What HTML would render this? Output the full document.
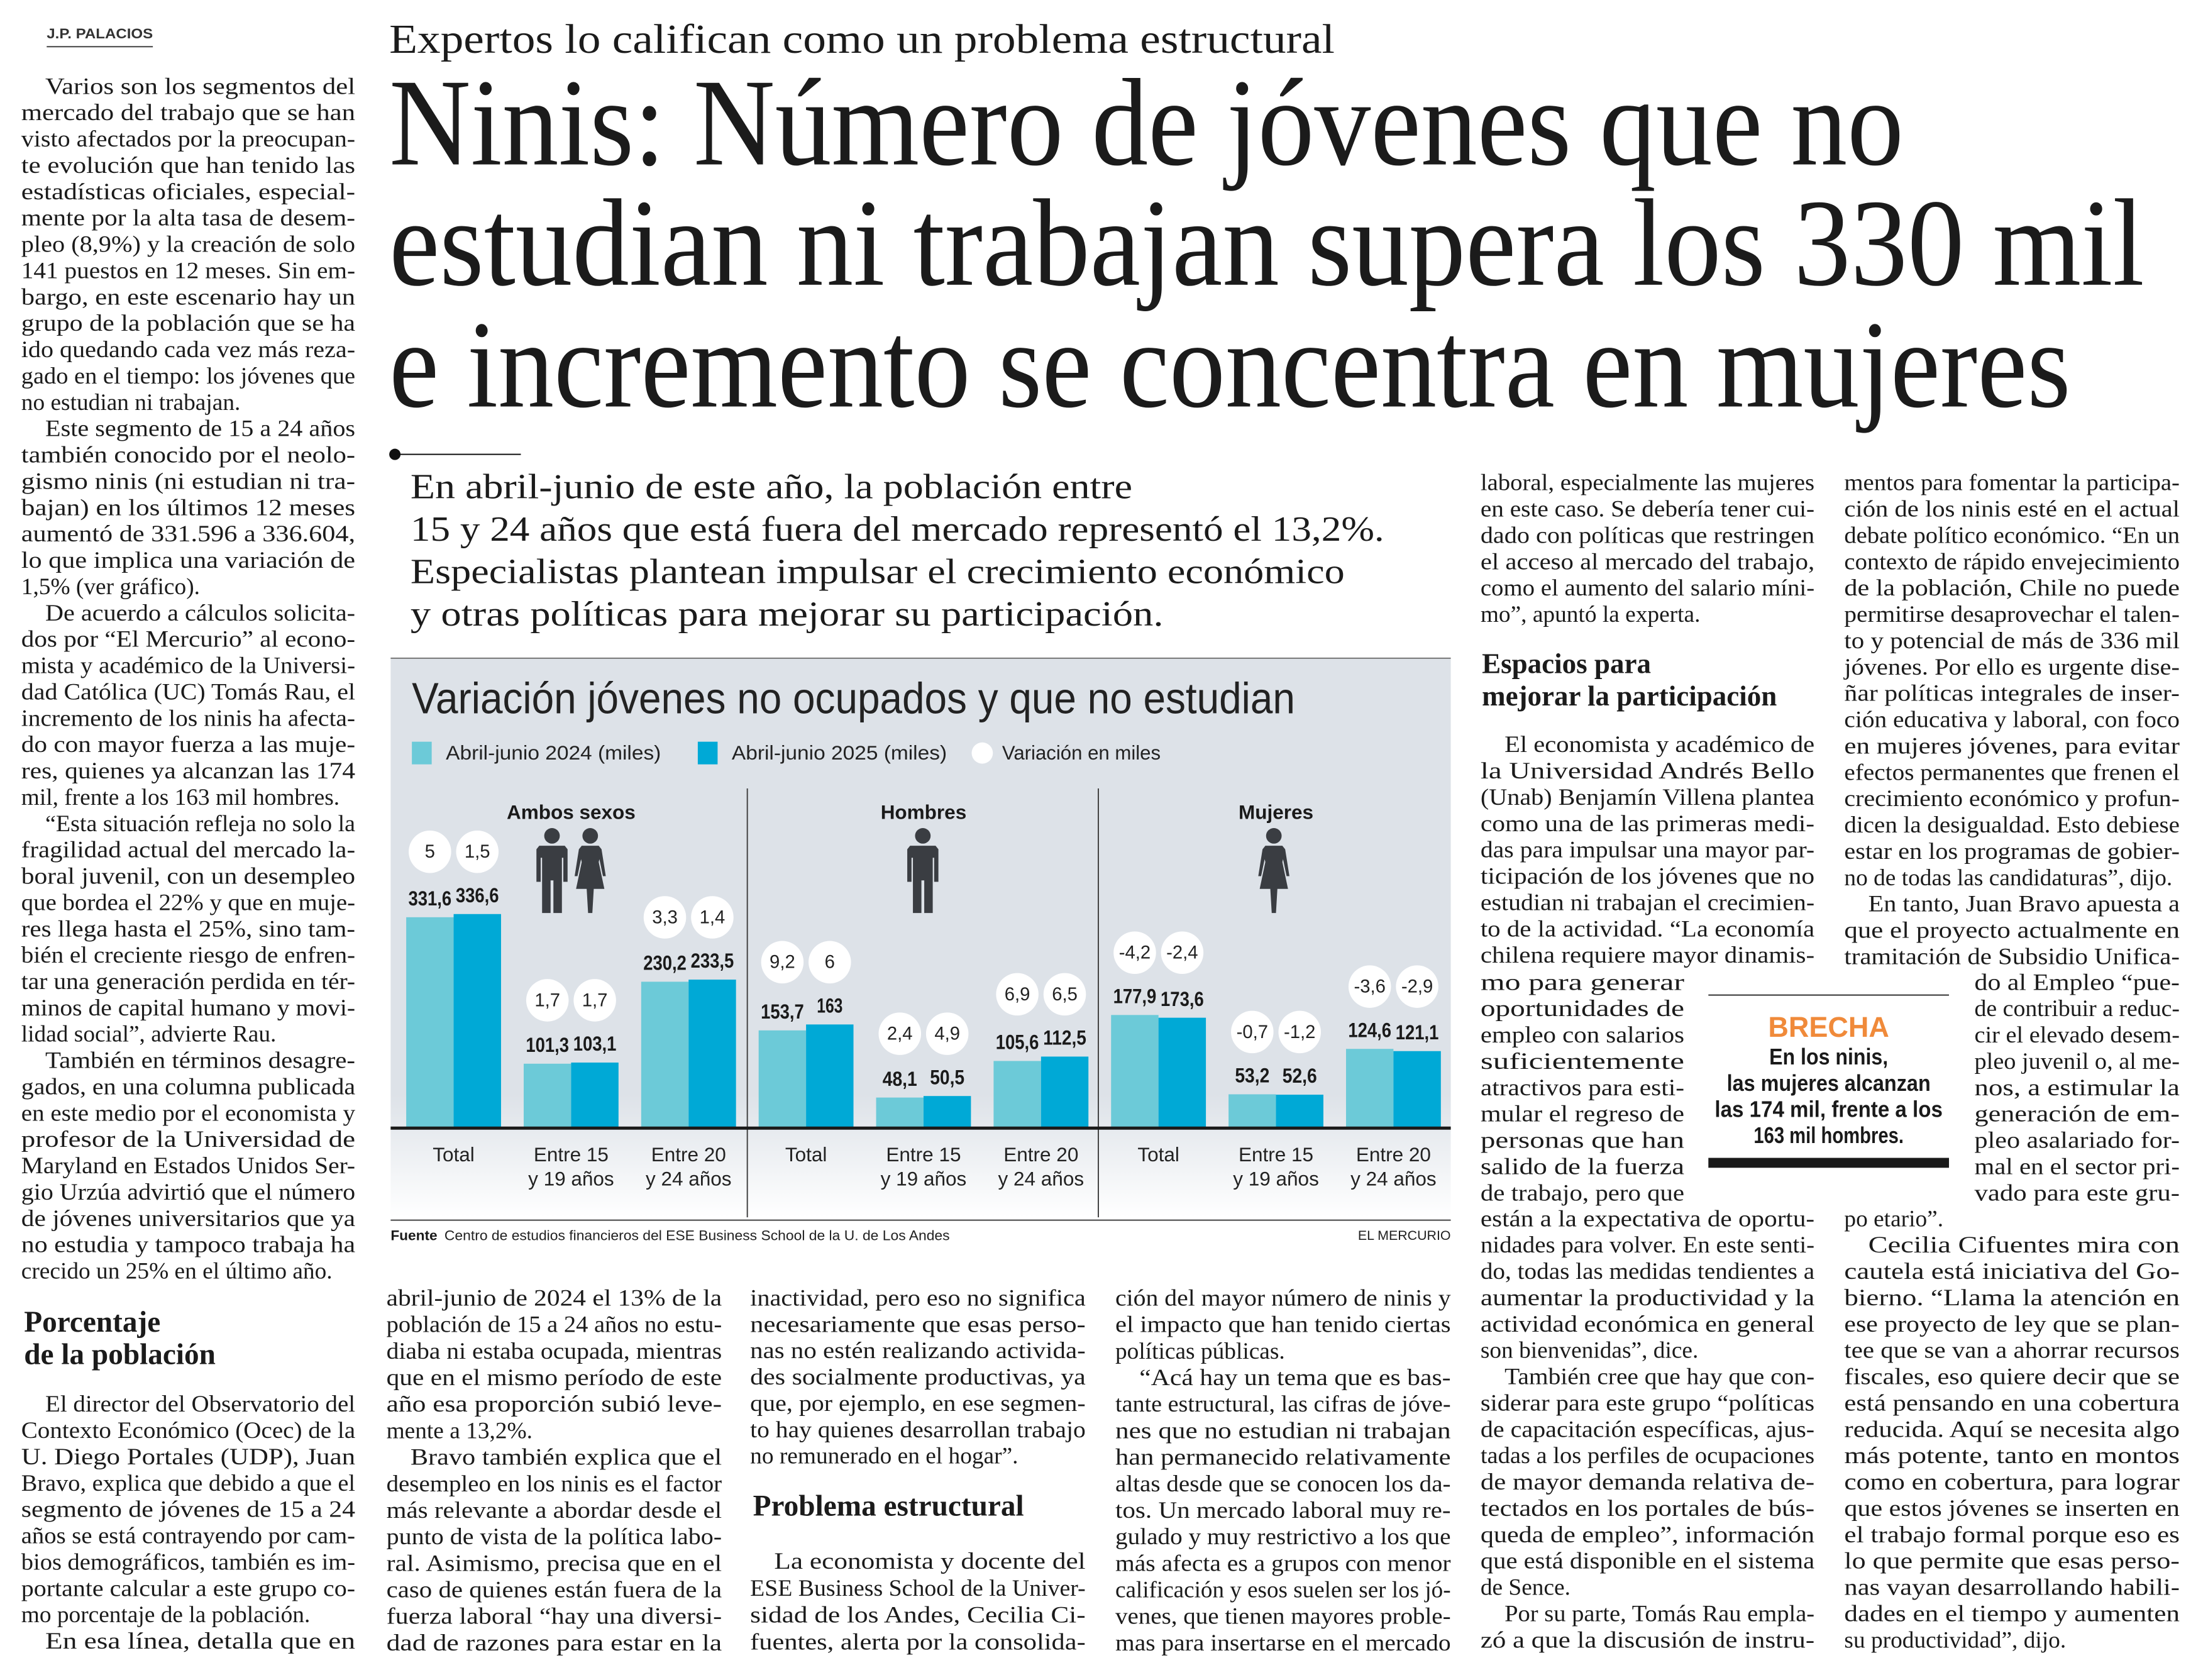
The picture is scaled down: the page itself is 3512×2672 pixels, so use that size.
<!DOCTYPE html>
<html><head><meta charset="utf-8">
<style>
html,body{margin:0;padding:0;background:#fff;}
svg{display:block;}
.body{font-family:"Liberation Serif",serif;fill:#1b1b1b;}
.sans{font-family:"Liberation Sans Narrow","Liberation Sans",sans-serif;}
</style></head>
<body>
<svg id="page" width="3512" height="2672" viewBox="0 0 3512 2672" xmlns="http://www.w3.org/2000/svg">
<defs>
<linearGradient id="bgGrad" x1="0" y1="0" x2="0" y2="1">
<stop offset="0" stop-color="#dde2e8"/><stop offset="0.78" stop-color="#dde2e8"/><stop offset="1" stop-color="#ffffff"/>
</linearGradient>
</defs>
<g id="text-layer"></g>
<g id="chart"></g>
</svg>
<script>
// ---------- CHART DATA ----------
const panels = ['Ambos sexos', 'Hombres', 'Mujeres'];
const categories = ['Total', 'Entre 15|y 19 años', 'Entre 20|y 24 años'];
const values2024 = [331.6, 101.3, 230.2, 153.7, 48.1, 105.6, 177.9, 53.2, 124.6];
const values2025 = [336.6, 103.1, 233.5, 163, 50.5, 112.5, 173.6, 52.6, 121.1];
const var2024 = ['5', '1,7', '3,3', '9,2', '2,4', '6,9', '-4,2', '-0,7', '-3,6'];
const var2025 = ['1,5', '1,7', '1,4', '6', '4,9', '6,5', '-2,4', '-1,2', '-2,9'];
const legendLabels = ['Abril-junio 2024 (miles)', 'Abril-junio 2025 (miles)', 'Variación en miles'];

const S = 3512 / 1560;
const NS = 'http://www.w3.org/2000/svg';
const D = v => v * S;

function mk(tag, attrs, parent) {
  const e = document.createElementNS(NS, tag);
  for (const k in attrs) e.setAttribute(k, attrs[k]);
  parent.appendChild(e);
  return e;
}

const T = document.getElementById('text-layer');
function txt(s, x, yc, size, opts, name) {
  opts = opts || {};
  const e = document.createElementNS(NS, 'text');
  e.setAttribute('x', D(x));
  e.setAttribute('y', D(yc + size * 0.32));
  e.setAttribute('font-size', D(size));
  e.setAttribute('class', opts.cls || 'body');
  if (opts.weight) e.setAttribute('font-weight', opts.weight);
  if (opts.fill) e.setAttribute('fill', opts.fill);
  if (opts.anchor) e.setAttribute('text-anchor', opts.anchor);
  e.textContent = s;
  
  
  (opts.parent || T).appendChild(e);
  if (opts.w) {
    if (opts.soft) {
      const L = e.getComputedTextLength();
      if (L > D(opts.w)) { e.setAttribute('textLength', D(opts.w)); e.setAttribute('lengthAdjust', 'spacingAndGlyphs'); }
    } else {
      e.setAttribute('textLength', D(opts.w));
      e.setAttribute('lengthAdjust', 'spacingAndGlyphs');
    }
  }
  return e;
}

function column(lines, x0, x1, y0, pitch, name) {
  lines.forEach((raw, i) => {
    let s = raw, ind = 0, last = false;
    if (s[0] === '>') { s = s.slice(1); ind = 17; }
    if (s[s.length - 1] === '|') { s = s.slice(0, -1); last = true; }
    const w = x1 - x0 - ind;
    txt(s, x0 + ind, y0 + i * pitch, 16.6, last ? { w: w, soft: true } : { w: w }, name);
  });
}
const P = 18.6;

// ---------- HEADER ----------
txt('J.P. PALACIOS', 33, 24, 10, { cls: 'sans', weight: 'bold', w: 75, fill: '#333' }, 'byline');
mk('line', { x1: D(33), y1: D(33), x2: D(108), y2: D(33), stroke: '#444', 'stroke-width': 2,  }, T);
txt('Expertos lo califican como un problema estructural', 275, 28, 29, { w: 668 }, 'kicker');
txt('Ninis: Número de jóvenes que no', 275, 88, 88, { w: 1070 }, 'headline-line-1');
txt('estudian ni trabajan supera los 330 mil', 275, 173, 88, { w: 1240 }, 'headline-line-2');
txt('e incremento se concentra en mujeres', 275, 259, 88, { w: 1188 }, 'headline-line-3');
mk('circle', { cx: D(279), cy: D(321), r: D(4), fill: '#111',  }, T);
mk('line', { x1: D(279), y1: D(321), x2: D(368), y2: D(321), stroke: '#111', 'stroke-width': 2,  }, T);
txt('En abril-junio de este año, la población entre', 290, 344, 25, { w: 510 }, 'deck-line');
txt('15 y 24 años que está fuera del mercado representó el 13,2%.', 290, 374, 25, { w: 688 }, 'deck-line');
txt('Especialistas plantean impulsar el crecimiento económico', 290, 404, 25, { w: 660 }, 'deck-line');
txt('y otras políticas para mejorar su participación.', 290, 434, 25, { w: 532 }, 'deck-line');

// ---------- COLUMNS ----------
column(['>Varios son los segmentos del','mercado del trabajo que se han','visto afectados por la preocupan-','te evolución que han tenido las','estadísticas oficiales, especial-','mente por la alta tasa de desem-','pleo (8,9%) y la creación de solo','141 puestos en 12 meses. Sin em-','bargo, en este escenario hay un','grupo de la población que se ha','ido quedando cada vez más reza-','gado en el tiempo: los jóvenes que','no estudian ni trabajan.|',
'>Este segmento de 15 a 24 años','también conocido por el neolo-','gismo ninis (ni estudian ni tra-','bajan) en los últimos 12 meses','aumentó de 331.596 a 336.604,','lo que implica una variación de','1,5% (ver gráfico).|',
'>De acuerdo a cálculos solicita-','dos por “El Mercurio” al econo-','mista y académico de la Universi-','dad Católica (UC) Tomás Rau, el','incremento de los ninis ha afecta-','do con mayor fuerza a las muje-','res, quienes ya alcanzan las 174','mil, frente a los 163 mil hombres.|',
'>“Esta situación refleja no solo la','fragilidad actual del mercado la-','boral juvenil, con un desempleo','que bordea el 22% y que en muje-','res llega hasta el 25%, sino tam-','bién el creciente riesgo de enfren-','tar una generación perdida en tér-','minos de capital humano y movi-','lidad social”, advierte Rau.|',
'>También en términos desagre-','gados, en una columna publicada','en este medio por el economista y','profesor de la Universidad de','Maryland en Estados Unidos Ser-','gio Urzúa advirtió que el número','de jóvenes universitarios que ya','no estudia y tampoco trabaja ha','crecido un 25% en el último año.|'], 15, 251, 61, P, 'column-1-text');
txt('Porcentaje', 17, 934, 21, { weight: 'bold' }, 'subhead');
txt('de la población', 17, 957, 21, { weight: 'bold' }, 'subhead');
column(['>El director del Observatorio del','Contexto Económico (Ocec) de la','U. Diego Portales (UDP), Juan','Bravo, explica que debido a que el','segmento de jóvenes de 15 a 24','años se está contrayendo por cam-','bios demográficos, también es im-','portante calcular a este grupo co-','mo porcentaje de la población.|','>En esa línea, detalla que en'], 15, 251, 992, P, 'column-1-text');

column(['abril-junio de 2024 el 13% de la','población de 15 a 24 años no estu-','diaba ni estaba ocupada, mientras','que en el mismo período de este','año esa proporción subió leve-','mente a 13,2%.|','>Bravo también explica que el','desempleo en los ninis es el factor','más relevante a abordar desde el','punto de vista de la política labo-','ral. Asimismo, precisa que en el','caso de quienes están fuera de la','fuerza laboral “hay una diversi-','dad de razones para estar en la'], 273, 510, 917, P * 1.0077, 'column-2-text');

column(['inactividad, pero eso no significa','necesariamente que esas perso-','nas no estén realizando activida-','des socialmente productivas, ya','que, por ejemplo, en ese segmen-','to hay quienes desarrollan trabajo','no remunerado en el hogar”.|'], 530, 767, 917, P, 'column-3-text');
txt('Problema estructural', 532, 1064, 21, { weight: 'bold' }, 'subhead');
column(['>La economista y docente del','ESE Business School de la Univer-','sidad de los Andes, Cecilia Ci-','fuentes, alerta por la consolida-'], 530, 767, 1103, 19, 'column-3-text');

column(['ción del mayor número de ninis y','el impacto que han tenido ciertas','políticas públicas.|','>“Acá hay un tema que es bas-','tante estructural, las cifras de jóve-','nes que no estudian ni trabajan','han permanecido relativamente','altas desde que se conocen los da-','tos. Un mercado laboral muy re-','gulado y muy restrictivo a los que','más afecta es a grupos con menor','calificación y esos suelen ser los jó-','venes, que tienen mayores proble-','mas para insertarse en el mercado'], 788, 1025, 917, P * 1.0077, 'column-4-text');

column(['laboral, especialmente las mujeres','en este caso. Se debería tener cui-','dado con políticas que restringen','el acceso al mercado del trabajo,','como el aumento del salario míni-','mo”, apuntó la experta.|'], 1046, 1282, 341, P, 'column-5-text');
txt('Espacios para', 1047, 469, 20, { weight: 'bold' }, 'subhead');
txt('mejorar la participación', 1047, 492, 20, { weight: 'bold' }, 'subhead');
column(['>El economista y académico de','la Universidad Andrés Bello','(Unab) Benjamín Villena plantea','como una de las primeras medi-','das para impulsar una mayor par-','ticipación de los jóvenes que no','estudian ni trabajan el crecimien-','to de la actividad. “La economía','chilena requiere mayor dinamis-'], 1046, 1282, 526, P, 'column-5-text');
column(['mo para generar','oportunidades de','empleo con salarios','suficientemente','atractivos para esti-','mular el regreso de','personas que han','salido de la fuerza','de trabajo, pero que'], 1046, 1190, 694, P, 'column-5-text');
column(['están a la expectativa de oportu-','nidades para volver. En este senti-','do, todas las medidas tendientes a','aumentar la productividad y la','actividad económica en general','son bienvenidas”, dice.|','>También cree que hay que con-','siderar para este grupo “políticas','de capacitación específicas, ajus-','tadas a los perfiles de ocupaciones','de mayor demanda relativa de-','tectados en los portales de bús-','queda de empleo”, información','que está disponible en el sistema','de Sence.|','>Por su parte, Tomás Rau empla-','zó a que la discusión de instru-'], 1046, 1282, 861, P, 'column-5-text');

column(['mentos para fomentar la participa-','ción de los ninis esté en el actual','debate político económico. “En un','contexto de rápido envejecimiento','de la población, Chile no puede','permitirse desaprovechar el talen-','to y potencial de más de 336 mil','jóvenes. Por ello es urgente dise-','ñar políticas integrales de inser-','ción educativa y laboral, con foco','en mujeres jóvenes, para evitar','efectos permanentes que frenen el','crecimiento económico y profun-','dicen la desigualdad. Esto debiese','estar en los programas de gobier-','no de todas las candidaturas”, dijo.|','>En tanto, Juan Bravo apuesta a','que el proyecto actualmente en','tramitación de Subsidio Unifica-'], 1303, 1540, 341, P, 'column-6-text');
column(['do al Empleo “pue-','de contribuir a reduc-','cir el elevado desem-','pleo juvenil o, al me-','nos, a estimular la','generación de em-','pleo asalariado for-','mal en el sector pri-','vado para este gru-'], 1395, 1540, 694, P, 'column-6-text');
column(['po etario”.|','>Cecilia Cifuentes mira con','cautela está iniciativa del Go-','bierno. “Llama la atención en','ese proyecto de ley que se plan-','tee que se van a ahorrar recursos','fiscales, eso quiere decir que se','está pensando en una cobertura','reducida. Aquí se necesita algo','más potente, tanto en montos','como en cobertura, para lograr','que estos jóvenes se inserten en','el trabajo formal porque eso es','lo que permite que esas perso-','nas vayan desarrollando habili-','dades en el tiempo y aumenten','su productividad”, dijo.|'], 1303, 1540, 861, P, 'column-6-text');

// ---------- BRECHA BOX ----------
mk('line', { x1: D(1207), y1: D(703), x2: D(1377), y2: D(703), stroke: '#333', 'stroke-width': 2,  }, T);
mk('rect', { x: D(1207), y: D(818), width: D(170), height: D(7), fill: '#1a1a1a',  }, T);
txt('BRECHA', 1292, 726, 20, { cls: 'sans', weight: 'bold', fill: '#f08a3a', anchor: 'middle' }, 'callout-title');
const bre = ['En los ninis,', 'las mujeres alcanzan', 'las 174 mil, frente a los', '163 mil hombres.'];
const brw = [84, 144, 161, 106];
bre.forEach((s, i) => {
  txt(s, 1292 - brw[i] / 2, 747 + i * 18.5, 16, { cls: 'sans', weight: 'bold', w: brw[i], fill: '#1a1a1a' }, 'callout-text');
});

// ---------- CHART ----------
const C = document.getElementById('chart');
mk('rect', { x: D(276), y: D(465), width: D(749), height: D(395), fill: 'url(#bgGrad)',  }, C);
mk('line', { x1: D(276), y1: D(465), x2: D(1025), y2: D(465), stroke: '#777', 'stroke-width': 2,  }, C);
txt('Variación jóvenes no ocupados y que no estudian', 291, 494, 31, { cls: 'sans', w: 624, fill: '#222', parent: C }, 'chart-title');

const legX = [291, 493];
const legCol = ['#6ccad8', '#00a9d6'];
[0, 1].forEach(i => {
  mk('rect', { x: D(legX[i]), y: D(524), width: D(14), height: D(16), fill: legCol[i],  }, C);
  txt(legendLabels[i], legX[i] + 24, 532, 14, { cls: 'sans', fill: '#222', parent: C, w: 152 }, 'legend-label');
});
mk('circle', { cx: D(694), cy: D(532), r: D(7.5), fill: '#fff',  }, C);
txt(legendLabels[2], 708, 532, 14, { cls: 'sans', fill: '#222', parent: C, w: 112 }, 'legend-label');

const baseY = 797;
const yScale = v => baseY - v * (149 / 331.6);
const groupX = g => 287 + Math.floor(g / 3) * 249 + (g % 3) * 83;
const barW = 33.5;

[0, 1].forEach(i => {
  mk('line', { x1: D(528 + i * 248), y1: D(557), x2: D(528 + i * 248), y2: D(860), stroke: '#444', 'stroke-width': 2,  }, C);
});
panels.forEach((p, i) => {
  txt(p, 403.5 + i * 249, 574, 14, { cls: 'sans', weight: 'bold', fill: '#1a1a1a', anchor: 'middle', parent: C }, 'panel-title');
});

function fmt(v) { return String(v).replace('.', ','); }

values2024.forEach((v1, g) => {
  const v2 = values2025[g];
  const x = groupX(g);
  const t1 = yScale(v1), t2 = yScale(v2);
  const b1 = mk('rect', { x: D(x), y: D(t1), width: D(barW), height: D(baseY - t1), fill: '#6ccad8' }, C);
  
  
  const b2 = mk('rect', { x: D(x + barW), y: D(t2), width: D(barW), height: D(baseY - t2), fill: '#00a9d6' }, C);
  
  
  const s1 = fmt(v1), s2 = fmt(v2);
  const w1 = s1.length * 6.1, w2 = s2.length * 6.1;
  txt(s1, x + barW / 2 - w1 / 2, t1 - 13, 14.5, { cls: 'sans', weight: 'bold', fill: '#1a1a1a', parent: C, w: w1 }, 'value-label-2024');
  txt(s2, x + barW * 1.5 - w2 / 2, t2 - 13, 14.5, { cls: 'sans', weight: 'bold', fill: '#1a1a1a', parent: C, w: w2 }, 'value-label-2025');
  const cy = Math.min(t1, t2) - 44;
  [[var2024[g], x + barW / 2], [var2025[g], x + barW * 1.5]].forEach(([s, cx]) => {
    const c = mk('circle', { cx: D(cx), cy: D(cy), r: D(15), fill: '#ffffff' }, C);
    
    
    txt(s, cx, cy, 13, { cls: 'sans', fill: '#222', anchor: 'middle', parent: C }, 'variation-label');
  });
  const parts = categories[g % 3].split('|');
  parts.forEach((s, j) => {
    txt(s, x + barW, 816 + j * 17, 14, { cls: 'sans', fill: '#222', anchor: 'middle', parent: C }, 'category-label');
  });
});
mk('line', { x1: D(276), y1: D(baseY), x2: D(1025), y2: D(baseY), stroke: '#1a1a1a', 'stroke-width': 5,  }, C);

function man(cx, top, name) {
  const k = D(1), X = u => D(cx) + u * k, Y = u => D(top) + u * k;
  const g = mk('g', { fill: '#3a3d42',  }, C);
  mk('circle', { cx: X(0), cy: Y(5.5), r: 5.5 * k }, g);
  mk('path', { d: `M${X(-11)},${Y(15)} L${X(-9)},${Y(12.5)} L${X(9)},${Y(12.5)} L${X(11)},${Y(15)} L${X(11)},${Y(38)} L${X(8)},${Y(38)} L${X(8)},${Y(21)} L${X(7)},${Y(21)} L${X(7)},${Y(60)} L${X(1)},${Y(60)} L${X(1)},${Y(37)} L${X(-1)},${Y(37)} L${X(-1)},${Y(60)} L${X(-7)},${Y(60)} L${X(-7)},${Y(21)} L${X(-8)},${Y(21)} L${X(-8)},${Y(38)} L${X(-11)},${Y(38)} Z` }, g);
}
function woman(cx, top, name) {
  const k = D(1), X = u => D(cx) + u * k, Y = u => D(top) + u * k;
  const g = mk('g', { fill: '#3a3d42',  }, C);
  mk('circle', { cx: X(0), cy: Y(5.5), r: 5.5 * k }, g);
  mk('path', { d: `M${X(-6)},${Y(12.5)} L${X(6)},${Y(12.5)} L${X(8)},${Y(15)} L${X(11)},${Y(34)} L${X(9)},${Y(34)} L${X(6.5)},${Y(22)} L${X(6)},${Y(24)} L${X(10)},${Y(43)} L${X(2.5)},${Y(43)} L${X(1.5)},${Y(60)} L${X(-1.5)},${Y(60)} L${X(-2.5)},${Y(43)} L${X(-10)},${Y(43)} L${X(-6)},${Y(24)} L${X(-6.5)},${Y(22)} L${X(-9)},${Y(34)} L${X(-11)},${Y(34)} L${X(-8)},${Y(15)} Z` }, g);
}
man(390, 585, 'icon-man');
woman(417, 585, 'icon-woman');
man(652, 585, 'icon-man');
woman(900, 585, 'icon-woman');

mk('line', { x1: D(276), y1: D(862), x2: D(1025), y2: D(862), stroke: '#444', 'stroke-width': 2,  }, C);
txt('Fuente', 276, 873, 10, { cls: 'sans', weight: 'bold', fill: '#1a1a1a', parent: C, w: 33 }, 'source-label');
txt('Centro de estudios financieros del ESE Business School de la U. de Los Andes', 314, 873, 10, { cls: 'sans', fill: '#222', parent: C, w: 357 }, 'source-text');
txt('EL MERCURIO', 1025, 873, 9.5, { cls: 'sans', fill: '#222', anchor: 'end', parent: C }, 'credit');
</script>
</body></html>
